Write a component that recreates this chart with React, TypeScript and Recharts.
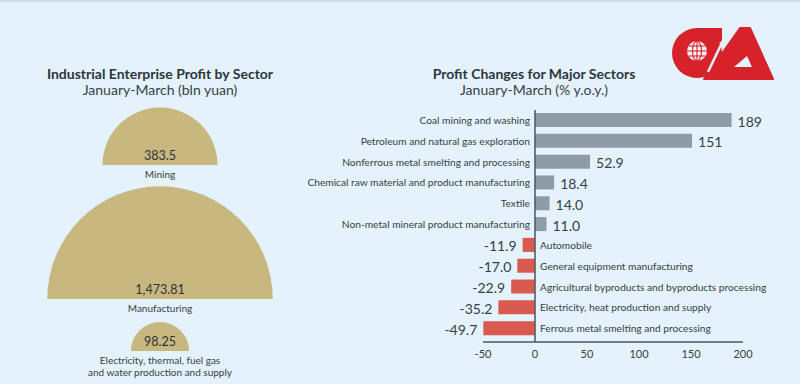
import React from 'react';
import { PieChart, Pie, Cell, BarChart, Bar, XAxis, YAxis, ReferenceLine, LabelList } from 'recharts';

// left panel: profit by sector (bln yuan)
const sectorNames = [['Mining'], ['Manufacturing'], ['Electricity, thermal, fuel gas', 'and water production and supply']];
const sectorProfit = [383.5, 1473.81, 98.25];
const sectorLabels = ['383.5', '1,473.81', '98.25'];

// right panel: profit change (% y.o.y.)
const changeSectors = [
  'Coal mining and washing',
  'Petroleum and natural gas exploration',
  'Nonferrous metal smelting and processing',
  'Chemical raw material and product manufacturing',
  'Textile',
  'Non-metal mineral product manufacturing',
  'Automobile',
  'General equipment manufacturing',
  'Agricultural byproducts and byproducts processing',
  'Electricity, heat production and supply',
  'Ferrous metal smelting and processing',
];
const changeValues = [189, 151, 52.9, 18.4, 14.0, 11.0, -11.9, -17.0, -22.9, -35.2, -49.7];
const changeLabels = ['189', '151', '52.9', '18.4', '14.0', '11.0', '-11.9', '-17.0', '-22.9', '-35.2', '-49.7'];
const xTicks = [-50, 0, 50, 100, 150, 200];

const FONT = 'Lato, "Noto Sans", sans-serif';
const TEXT = '#34404a';
const GOLD = '#c9b780';
const GRAY = '#8f9ca5';
const RED = '#d95a4e';
const BG = '#e4f2fb';
const LOGO_RED = '#d7222b';

const pieCy = [163, 297, 349];
const baseRadius = 57.5; // radius for the mining semicircle

const changeData = changeSectors.map((name, i) => ({ name, value: changeValues[i], label: changeLabels[i] }));

const BarLabel = (props: any) => {
  const { x, y, width, height, index } = props;
  const left = Math.min(x, x + width);
  const right = Math.max(x, x + width);
  const cy = y + height / 2;
  const v = changeValues[index];
  if (v >= 0) {
    return (
      <g fontFamily={FONT}>
        <text x={left - 5} y={cy} textAnchor="end" dominantBaseline="central" fontSize={10.2} fill={TEXT}>
          {changeSectors[index]}
        </text>
        <text x={right + 6} y={cy + 1} textAnchor="start" dominantBaseline="central" fontSize={14} fill={TEXT}>
          {changeLabels[index]}
        </text>
      </g>
    );
  }
  return (
    <g fontFamily={FONT}>
      <text x={right + 5} y={cy} textAnchor="start" dominantBaseline="central" fontSize={10.2} fill={TEXT}>
        {changeSectors[index]}
      </text>
      <text x={left - 6} y={cy + 1} textAnchor="end" dominantBaseline="central" fontSize={14} fill={TEXT}>
        {changeLabels[index]}
      </text>
    </g>
  );
};

// CA logo, top right
const Logo = () => (
  <svg width={800} height={384} style={{ position: 'absolute', left: 0, top: 0 }}>
    <circle cx={697} cy={51} r={25} fill={LOGO_RED} />
    <polygon points="697,26 722,26 722,40 697,40" fill={LOGO_RED} />
    <polygon points="704,77 740,26 750,26 773,77" fill={LOGO_RED} strokeLinejoin="round" stroke={LOGO_RED} strokeWidth={2} />
    <polygon points="734,65 747,54 752,65" fill={BG} />
    <line x1={729} y1={26} x2={708} y2={70} stroke={BG} strokeWidth={2.5} />
    <circle cx={697} cy={49} r={10} fill="#f6f4f2" />
    <g stroke={LOGO_RED} strokeWidth={1.1} fill="none">
      <ellipse cx={697} cy={49} rx={4.5} ry={10} />
      <line x1={697} y1={39} x2={697} y2={59} />
      <line x1={687} y1={49} x2={707} y2={49} />
      <line x1={688.5} y1={44} x2={705.5} y2={44} />
      <line x1={688.5} y1={54} x2={705.5} y2={54} />
    </g>
  </svg>
);

export default function App() {
  return (
    <div
      style={{
        position: 'absolute',
        left: 0,
        top: 0,
        width: 800,
        height: 384,
        background: BG,
        borderTop: '2px solid #d2dde5',
        boxSizing: 'border-box',
        fontFamily: FONT,
        overflow: 'hidden',
      }}
    >
      <div style={{ position: 'absolute', left: 0, top: 0, width: 320, textAlign: 'center', color: TEXT }}>
        <div style={{ position: 'absolute', top: 63, width: 320, fontWeight: 700, fontSize: 14, color: '#2b3640' }}>
          Industrial Enterprise Profit by Sector
        </div>
        <div style={{ position: 'absolute', top: 79, width: 320, fontSize: 14 }}>January-March (bln yuan)</div>
      </div>
      <div style={{ position: 'absolute', left: 400, top: 0, width: 268, textAlign: 'center', color: TEXT }}>
        <div style={{ position: 'absolute', top: 63, width: 268, fontWeight: 700, fontSize: 14, color: '#2b3640' }}>
          Profit Changes for Major Sectors
        </div>
        <div style={{ position: 'absolute', top: 79, width: 268, fontSize: 14 }}>January-March (% y.o.y.)</div>
      </div>

      <div style={{ position: 'absolute', left: 0, top: 0 }}>
        <PieChart width={320} height={384} margin={{ top: 0, right: 0, bottom: 0, left: 0 }}>
          {sectorProfit.map((v, i) => (
            <Pie
              key={i}
              data={[{ name: sectorNames[i].join(' '), value: v }]}
              dataKey="value"
              cx={160}
              cy={pieCy[i]}
              startAngle={180}
              endAngle={0}
              innerRadius={0}
              outerRadius={baseRadius * Math.sqrt(v / sectorProfit[0])}
              stroke="none"
              isAnimationActive={false}
              labelLine={false}
              label={() => (
                <g fontFamily={FONT} fill={TEXT}>
                  <text x={160} y={pieCy[i] - 5} textAnchor="middle" fontSize={12.5} fill="#2b3338">
                    {sectorLabels[i]}
                  </text>
                  {sectorNames[i].map((line, j) => (
                    <text key={j} x={160} y={pieCy[i] + 13 + j * 12} textAnchor="middle" fontSize={10} fill={TEXT}>
                      {line}
                    </text>
                  ))}
                </g>
              )}
            >
              <Cell fill={GOLD} />
            </Pie>
          ))}
        </PieChart>
      </div>

      <div style={{ position: 'absolute', left: 0, top: 0 }}>
        <BarChart
          width={800}
          height={384}
          data={changeData}
          layout="vertical"
          margin={{ top: 108, right: 57, bottom: 24, left: 483 }}
          barSize={14}
        >
          <XAxis
            type="number"
            domain={[-50, 200]}
            ticks={xTicks}
            height={20}
            axisLine={{ stroke: '#4b5761', strokeWidth: 1.5 }}
            tickLine={false}
            tick={{ fontSize: 11, fill: TEXT, fontFamily: FONT }}
            tickMargin={2}
            interval={0}
          />
          <YAxis type="category" dataKey="name" hide width={0} padding={{ top: 0, bottom: 3 }} />
          <ReferenceLine x={0} stroke="#4b5761" strokeWidth={1.5} />
          <Bar dataKey="value" isAnimationActive={false}>
            {changeData.map((d, i) => (
              <Cell key={i} fill={d.value >= 0 ? GRAY : RED} />
            ))}
            <LabelList dataKey="value" content={BarLabel} />
          </Bar>
        </BarChart>
      </div>
      <Logo />
    </div>
  );
}
